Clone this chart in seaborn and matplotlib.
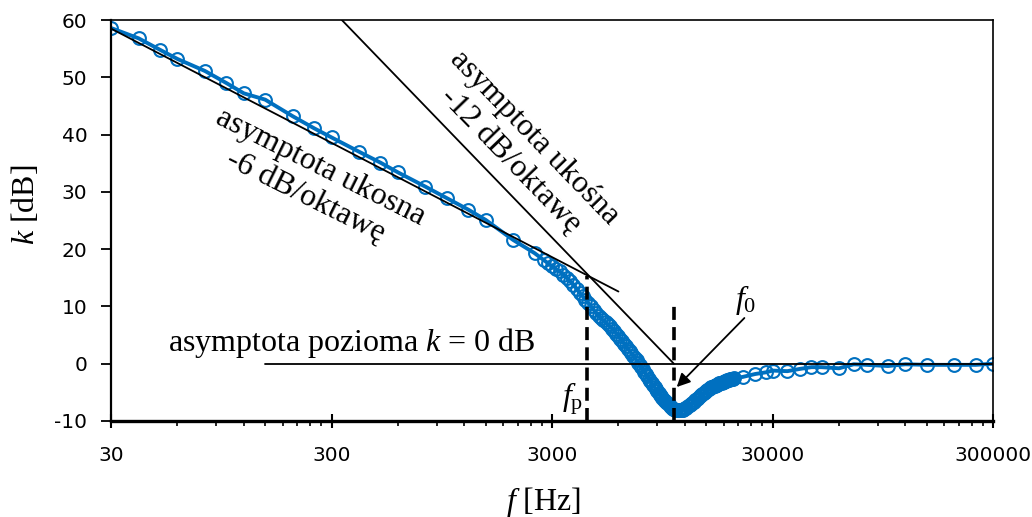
import matplotlib
matplotlib.use("Agg")
import matplotlib.pyplot as plt
import seaborn as sns
import pandas as pd
from matplotlib.ticker import FixedLocator, FixedFormatter, NullFormatter

# ---------------- data ----------------
freq_hz = [30, 40, 50, 60, 80, 100, 120, 150, 200, 250, 300, 400, 500, 600, 800,
           1000, 1250, 1500, 2000, 2500,
           2750, 2875, 3000, 3125, 3250, 3375, 3500, 3625, 3750, 3875,
           4000, 4125, 4250, 4375, 4500, 4625, 4750, 4875, 5000, 5125,
           5250, 5375, 5500, 5625, 5750, 5875, 6000, 6125, 6250, 6375,
           6500, 6625, 6750, 6875, 7000, 7125, 7250, 7375, 7500, 7625,
           7750, 7875, 8000, 8125, 8250, 8375, 8500, 8625, 8750, 8875,
           9000, 9125, 9250, 9375, 9500, 9625, 9750, 9875, 10000, 10125,
           10250, 10375, 10500, 10625, 10750, 10875, 11000, 11125, 11250, 11375,
           11500, 11625, 11750, 11875, 12000,
           12200, 12400, 12600, 12800, 13000, 13200, 13400, 13600, 13800, 14000,
           14200, 14400, 14600, 14800, 15000, 15200, 15400, 15600, 15800, 16000,
           16200, 16400, 16600, 16800, 17000, 17200, 17400, 17600, 17800, 18000,
           18200, 18400, 18600, 18800, 19000, 19200, 19400, 19600, 19800, 20000,
           22000, 25000, 28000, 30000, 35000, 40000, 45000, 50000, 60000, 70000,
           80000, 100000, 120000, 150000, 200000, 250000, 300000]
k_db = [58.6, 56.8, 54.8, 53.2, 51.1, 49.0, 47.2, 46.1, 43.2, 41.1, 39.5, 37.0, 35.1, 33.4, 30.9,
        28.9, 26.9, 25.1, 21.6, 19.3,
        18.1, 17.55, 17.0, 16.55, 16.1, 15.55, 15.0, 14.4, 13.8, 13.1,
        12.4, 11.8, 11.2, 10.6, 10.0, 9.45, 8.9, 8.4, 7.9, 7.55,
        7.2, 6.85, 6.5, 6.1, 5.7, 5.25, 4.8, 4.35, 3.9, 3.5,
        3.05, 2.6, 2.2, 1.8, 1.4, 1.0, 0.6, 0.2, -0.2, -0.6,
        -1.0, -1.4, -1.8, -2.2, -2.6, -3.0, -3.4, -3.75, -4.1, -4.45,
        -4.8, -5.1, -5.4, -5.7, -6.05, -6.3, -6.5, -6.7, -6.9, -7.1,
        -7.3, -7.5, -7.7, -7.85, -7.95, -8.0, -8.05, -8.1, -8.1, -8.1,
        -8.1, -8.05, -8.0, -7.9, -7.8,
        -7.65, -7.45, -7.25, -7.05, -6.9, -6.65, -6.4, -6.2, -5.95, -5.7,
        -5.5, -5.3, -5.1, -4.9, -4.75, -4.55, -4.4, -4.25, -4.15, -4.0,
        -3.9, -3.85, -3.75, -3.65, -3.55, -3.45, -3.4, -3.3, -3.2, -3.15,
        -3.05, -3.0, -2.9, -2.85, -2.8, -2.75, -2.7, -2.65, -2.6, -2.55,
        -2.3, -1.8, -1.5, -1.2, -1.3, -0.9, -0.6, -0.6, -0.8, -0.1,
        -0.2, -0.4, -0.1, -0.2, -0.2, -0.2, 0.0]

# asymptotes and marker lines (data coordinates)
asym6_f = [30, 6000]
asym6_k = [58.5, 12.6]
asym12_f = [334, 10700]
asym12_k = [60, 0]
asym0_f = [150, 300000]
asym0_k = [0, 0]
fp_f = [4300, 4300]
fp_k = [-10, 15.3]
f0_f = [10700, 10700]
f0_k = [-10, 10.0]

x_major = [30, 300, 3000, 30000, 300000]
x_labels = ["30", "300", "3000", "30000", "300000"]
x_minor_mult = [2, 3, 4, 5, 6, 7, 8, 9]
y_major = [-10, 0, 10, 20, 30, 40, 50, 60]
y_labels = ["-10", "0", "10", "20", "30", "40", "50", "60"]

BLUE = "#0070C0"
SERIF = "Liberation Serif"

sns.set_style("white")
plt.rcParams.update({
    "font.family": ["DejaVu Sans"],
    "axes.unicode_minus": False,
    "text.color": "black",
    "axes.labelcolor": "black",
    "xtick.color": "black",
    "ytick.color": "black",
    "axes.edgecolor": "black",
    "mathtext.fontset": "custom",
    "mathtext.rm": SERIF,
    "mathtext.it": SERIF + ":italic",
    "mathtext.bf": SERIF + ":bold",
})

fig = plt.figure(figsize=(10.32, 5.17), dpi=100)
ax = fig.add_axes([0.1076, 0.1857, 0.8547, 0.7756])

df = pd.DataFrame({"f": freq_hz, "k": k_db})
sns.lineplot(data=df, x="f", y="k", ax=ax, color=BLUE, linewidth=2.8,
             marker="o", markersize=9.2, markerfacecolor="none",
             markeredgecolor=BLUE, markeredgewidth=1.5, zorder=2,
             legend=False)

ax.set_xscale("log")
ax.set_xlim(30, 300000)
ax.set_ylim(-10, 60)

# asymptotes
ax.plot(asym6_f, asym6_k, color="black", lw=1.3, zorder=3)
ax.plot(asym12_f, asym12_k, color="black", lw=1.3, zorder=3)
ax.plot(asym0_f, asym0_k, color="black", lw=1.3, zorder=3)
ax.plot(fp_f, fp_k, color="black", lw=2.6, dashes=(3.6, 2.0), zorder=4)
ax.plot(f0_f, f0_k, color="black", lw=2.6, dashes=(3.6, 2.0), zorder=4)

# ticks
ax.xaxis.set_major_locator(FixedLocator(x_major))
ax.xaxis.set_major_formatter(FixedFormatter(x_labels))
minor = [d * m for d in x_major[:-1] for m in x_minor_mult]
ax.xaxis.set_minor_locator(FixedLocator(minor))
ax.xaxis.set_minor_formatter(NullFormatter())
ax.yaxis.set_major_locator(FixedLocator(y_major))
ax.yaxis.set_major_formatter(FixedFormatter(y_labels))

ax.tick_params(axis="x", which="major", direction="inout", length=9.4, width=1.5,
               pad=13, labelsize=14.5, colors="black", bottom=True, top=False)
ax.tick_params(axis="x", which="minor", direction="out", length=3.8, width=1.2,
               bottom=True, top=False, colors="black")
ax.tick_params(axis="y", which="major", direction="out", length=7, width=1.3,
               pad=10, labelsize=14.5, colors="black", left=True, right=False)

for side, w in (("bottom", 2.4), ("left", 1.6), ("top", 1.2), ("right", 1.2)):
    ax.spines[side].set_color("black")
    ax.spines[side].set_linewidth(w)
    ax.spines[side].set_visible(True)
ax.grid(False)

# axis labels
ax.set_xlabel(r"$f$ [Hz]", fontsize=23, family=SERIF, va="center", color="black")
ax.xaxis.set_label_coords(0.49, -0.202)
ax.set_ylabel(r"$k$ [dB]", fontsize=23, family=SERIF, va="center", color="black")
ax.yaxis.set_label_coords(-0.0975, 0.539)

# annotations
ax.text(248, 31.8, "asymptota ukosna\n-6 dB/oktawę", fontsize=23, family=SERIF,
        rotation=-26.5, rotation_mode="anchor", ha="center", va="center",
        multialignment="center", linespacing=1.15, zorder=5, color="black")
ax.text(2205, 37.5, "asymptota ukośna\n-12 dB/oktawę", fontsize=23, family=SERIF,
        rotation=-46, rotation_mode="anchor", ha="center", va="center",
        multialignment="center", linespacing=1.15, zorder=5, color="black")
ax.text(54.6, 2.15, r"asymptota pozioma $k$ = 0 dB", fontsize=23, family=SERIF,
        ha="left", va="baseline", zorder=5, color="black")
ax.text(22700, 11.2, r"$f_0$", fontsize=23, family=SERIF, ha="center", va="center",
        color="black")
ax.text(4146, -6.1, r"$f_\mathrm{p}$", fontsize=23, family=SERIF, ha="right",
        va="center", color="black")
ax.annotate("", xy=(11030, -4.07), xytext=(22350, 7.98),
            arrowprops=dict(arrowstyle="-|>", color="black", lw=1.3,
                            mutation_scale=20, shrinkA=0, shrinkB=0),
            zorder=5)

fig.savefig("out.png", dpi=100)
